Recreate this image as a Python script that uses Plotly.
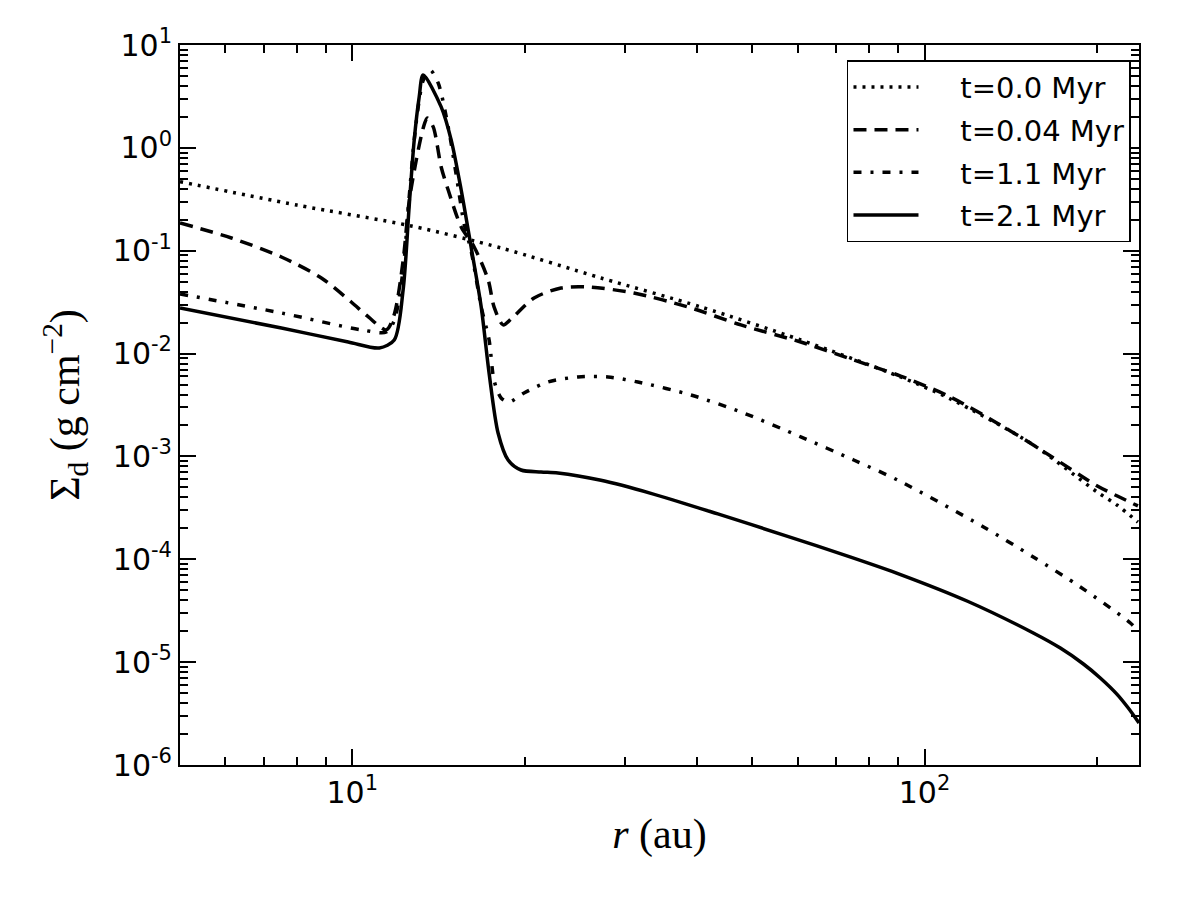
import math
import plotly.graph_objects as go

# ---- data ----
r_t0 = [5.0, 8.0, 12.68, 18.2, 27.2, 40.65, 60.76, 90.8, 111.0, 153.1, 200.4, 217.2, 236.0]
s_t0 = [0.469, 0.278, 0.174, 0.1063, 0.0543, 0.0284, 0.01355, 0.00592, 0.00362, 0.00135, 0.00045, 0.000335, 0.00023]

r_t004 = [5.0, 6.15, 7.52, 8.83, 9.96, 10.67, 11.47, 11.84, 12.27, 12.57, 12.93, 13.3, 13.52, 13.85,
          14.30, 14.71, 15.50, 16.33, 17.28, 17.69, 18.35, 19.0, 20.78, 23.16, 25.82, 31.05, 38.58,
          47.75, 60.76, 75.2, 90.8, 111.0, 141.3, 166.0, 200.4, 217.2, 236.0]
s_t004 = [0.186, 0.133, 0.0869, 0.0543, 0.0317, 0.0227, 0.0170, 0.024, 0.08, 0.3, 0.75, 1.55, 1.95, 1.6,
          0.651, 0.389, 0.170, 0.1087, 0.0519, 0.0284, 0.019, 0.022, 0.0347, 0.0434, 0.0444, 0.0388, 0.0284,
          0.0190, 0.01296, 0.00866, 0.00605, 0.00378, 0.00177, 0.00101, 0.000516, 0.000412, 0.00033]

r_t11 = [5.0, 7.52, 10.37, 11.47, 11.84, 12.27, 12.52, 12.83, 13.09, 13.30, 13.68, 14.13, 14.71, 15.19,
         15.69, 16.13, 16.80, 17.34, 17.69, 18.2, 18.79, 19.96, 21.98, 24.8, 27.98, 31.56, 39.05, 48.32,
         60.76, 75.2, 89.7, 126.8, 154.9, 187.2, 228.9, 236.0]
s_t11 = [0.0380, 0.0248, 0.0170, 0.0162, 0.021, 0.065, 0.25, 1.19, 2.9, 4.5, 5.71, 4.27, 1.6, 0.55,
         0.18, 0.1, 0.0284, 0.0136, 0.0055, 0.0037, 0.00338, 0.00414, 0.00529, 0.00592, 0.00592, 0.00529,
         0.00396, 0.00264, 0.00155, 0.000923, 0.00059, 0.000206, 0.0001053, 5.38e-5, 2.40e-5, 2.0e-5]

r_t21 = [5.0, 7.52, 9.84, 11.15, 11.84, 12.27, 12.57, 12.83, 13.09, 13.30, 14.30, 14.89, 15.50, 16.13,
         16.80, 17.34, 17.98, 18.72, 19.72, 21.37, 22.88, 27.2, 33.25, 43.53, 56.75, 74.3, 90.8, 118.9,
         154.9, 172.7, 189.5, 202.8, 217.2, 227.0, 237.0]
s_t21 = [0.0277, 0.0177, 0.01296, 0.01133, 0.01355, 0.0415, 0.266, 1.19, 3.12, 5.11, 2.50, 1.19, 0.389,
         0.1087, 0.0284, 0.00648, 0.00169, 0.000923, 0.000738, 0.000706, 0.00069, 0.000586, 0.000438,
         0.000276, 0.000172, 0.000105, 7.11e-5, 3.91e-5, 1.92e-5, 1.37e-5, 9.59e-6, 7.02e-6, 4.84e-6,
         3.58e-6, 2.56e-6]

labels = ["t=0.0 Myr", "t=0.04 Myr", "t=1.1 Myr", "t=2.1 Myr"]

x_major = [10, 100]
x_major_text = ["10<sup>1</sup>", "10<sup>2</sup>"]
x_minor = [6, 7, 8, 9, 20, 30, 40, 50, 60, 70, 80, 90, 200]
y_exps = [-6, -5, -4, -3, -2, -1, 0, 1]

# ---- figure ----
series = [
    (r_t0, s_t0, labels[0], "3px,6px"),
    (r_t004, s_t004, labels[1], "13px,8px"),
    (r_t11, s_t11, labels[2], "8px,9px,3px,9px"),
    (r_t21, s_t21, labels[3], "solid"),
]

pad = "\u00a0" * 4
fig = go.Figure()
for i, (rx, sy, name, dash) in enumerate(series):
    fig.add_trace(go.Scatter(
        x=rx, y=sy, name=pad + name, mode="lines", legendgroup=f"g{i}",
        line=dict(color="black", width=3.5, dash=dash, shape="spline", smoothing=0.8),
    ))

y_major = [10.0 ** e for e in y_exps]
y_major_text = [f"10<sup>{e}</sup>" for e in y_exps]
y_minor = [m * 10.0 ** e for e in y_exps[:-1] for m in range(2, 10)]

tickfont = dict(family="DejaVu Sans", size=30, color="black")
titlefont = dict(family="Liberation Serif", size=42, color="black")

fig.update_xaxes(
    type="log", range=[math.log10(5.0), math.log10(237.0)],
    tickvals=x_major, ticktext=x_major_text, tickfont=tickfont,
    ticks="inside", ticklen=16, tickwidth=1.5, tickcolor="black",
    minor=dict(tickvals=x_minor, ticks="inside", ticklen=8, tickwidth=1.5, tickcolor="black", showgrid=False),
    showline=True, linewidth=2, linecolor="black", mirror="ticks", showgrid=False, zeroline=False,
    title=dict(text="<i>r</i> (au)", font=titlefont, standoff=10),
)
fig.update_yaxes(
    type="log", range=[-6, 1],
    tickvals=y_major, ticktext=y_major_text, tickfont=tickfont,
    ticks="inside", ticklen=16, tickwidth=1.5, tickcolor="black",
    minor=dict(tickvals=y_minor, ticks="inside", ticklen=8, tickwidth=1.5, tickcolor="black", showgrid=False),
    showline=True, linewidth=2, linecolor="black", mirror="ticks", showgrid=False, zeroline=False,
    title=dict(text="Σ<sub>d</sub> (g cm<sup>−2</sup>)", font=titlefont, standoff=20),
)

fig.update_layout(
    width=1200, height=900,
    margin=dict(l=180, r=61, t=45, b=135),
    paper_bgcolor="white", plot_bgcolor="white",
    showlegend=True,
    legend=dict(
        x=0.6955, y=0.979, xanchor="left", yanchor="top",
        bgcolor="white", bordercolor="black", borderwidth=1.5,
        font=dict(family="DejaVu Sans", size=29, color="black"),
        itemwidth=65, tracegroupgap=2,
    ),
)

fig.write_html("out.html")
